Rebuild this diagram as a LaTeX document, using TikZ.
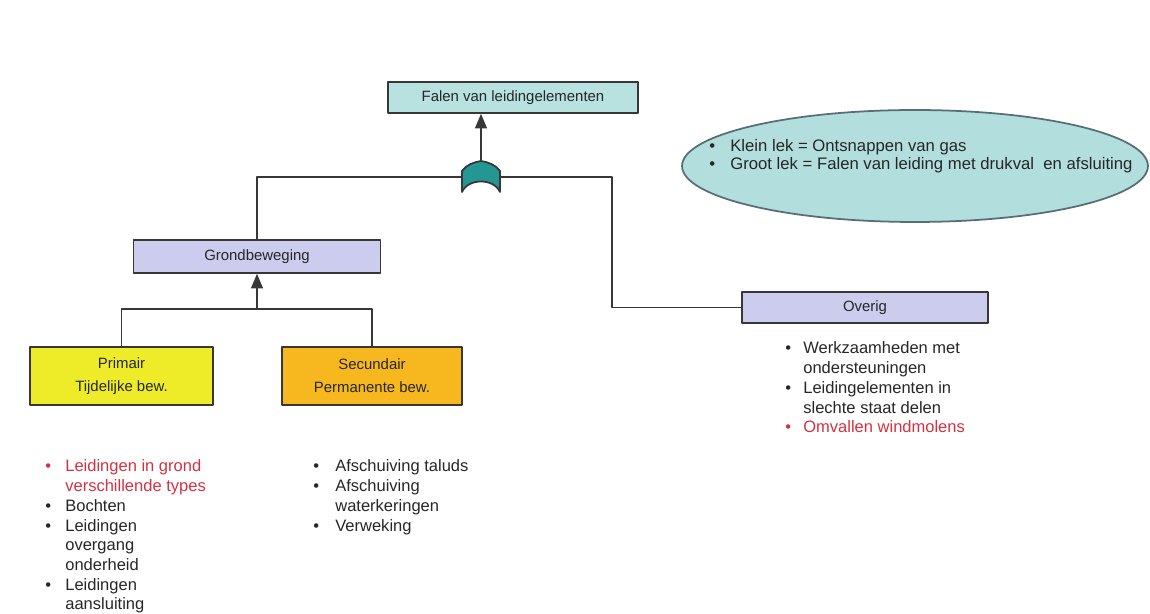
\documentclass[tikz,border=0pt]{standalone}
\usepackage{fontspec}
\setmainfont{Liberation Sans}
\usetikzlibrary{arrows,shapes.geometric}
\definecolor{boxteal}{RGB}{184,226,224}
\definecolor{ovalteal}{RGB}{178,222,222}
\definecolor{ovalrim}{RGB}{88,110,116}
\definecolor{gateteal}{RGB}{36,150,148}
\definecolor{lavender}{RGB}{204,204,238}
\definecolor{yellowbox}{RGB}{238,236,40}
\definecolor{orangebox}{RGB}{246,184,30}
\definecolor{redtext}{RGB}{214,48,64}
\definecolor{linegray}{RGB}{55,55,55}

\begin{document}
\begin{tikzpicture}[line cap=round,line join=round,>=triangle 45,x=0.02cm,y=-0.02cm,
	box/.style={draw=linegray,line width=1pt,minimum height=0.62cm,inner sep=0pt,
		font=\fontsize{8.5}{13}\selectfont,text=black!85},
	conn/.style={draw=linegray,line width=0.9pt},
	lst/.style={anchor=base west,inner sep=0pt,font=\fontsize{9.4}{11.2}\selectfont,text=black!85}]
	\useasboundingbox (0,0) rectangle (1150,614);
	% boxes of the tree
	\node[box,fill=boxteal,minimum width=5cm] (top) at (513,97.5) {Falen van leidingelementen};
	\node[box,fill=lavender,minimum width=4.94cm,minimum height=0.66cm] (grond) at (257,256.5) {Grondbeweging};
	\node[box,fill=yellowbox,minimum width=3.66cm,minimum height=1.16cm,align=center] (prim) at (121.5,376) {Primair\\Tijdelijke bew.};
	\node[box,fill=orangebox,minimum width=3.6cm,minimum height=1.16cm,align=center] (sec) at (372,376) {Secundair\\Permanente bew.};
	\node[box,fill=lavender,minimum width=4.92cm] (overig) at (865,307.5) {Overig};
	% note in the oval
	\node[ellipse,draw=ovalrim,line width=1pt,fill=ovalteal,minimum width=9.32cm,minimum height=2.24cm,inner sep=0pt] (oval) at (915,166) {};
	\node[anchor=base west,inner sep=0pt,font=\fontsize{9.5}{10.2}\selectfont,text=black!85] (lek) at (709,152)
		{\begin{tabular}[t]{@{}p{0.42cm}@{}l@{}}
			\textbullet & Klein lek = Ontsnappen van gas\\
			\textbullet & Groot lek = Falen van leiding met drukval\ \ en afsluiting
		\end{tabular}};
	% or gate
	\coordinate (gatetop) at (481,161);
	\coordinate (gateleft) at (462,177);
	\coordinate (gateright) at (500,177);
	\draw[draw=linegray,line width=1pt,fill=gateteal] (462,192) -- (462,171) .. controls (466,165) and (474,162) .. (481,161)
		.. controls (488,162) and (496,165) .. (500,171) -- (500,192) .. controls (494,178) and (468,178) .. (462,192) -- cycle;
	\coordinate (bend) at (612,177);
	\coordinate (join) at (257,309);
	% connectors
	\draw[conn,->] (gatetop) -- (gatetop |- top.south);
	\draw[conn] (gateleft) -| (grond.north);
	\draw[conn] (gateright) -- (bend) |- (overig.west);
	\draw[conn,->] (join) -- (grond.south);
	\draw[conn] (prim.north) |- (join) -| (sec.north);
	% lists below the boxes
	\node[lst] (primlist) at (45,472)
		{\begin{tabular}[t]{@{}p{0.4cm}@{}l@{}}
			\textcolor{redtext}{\textbullet} & \textcolor{redtext}{Leidingen in grond}\\
			& \textcolor{redtext}{verschillende types}\\
			\textbullet & Bochten\\
			\textbullet & Leidingen\\
			& overgang\\
			& onderheid\\
			\textbullet & Leidingen\\
			& aansluiting
		\end{tabular}};
	\node[lst] (seclist) at (313,472)
		{\begin{tabular}[t]{@{}p{0.44cm}@{}l@{}}
			\textbullet & Afschuiving taluds\\
			\textbullet & Afschuiving\\
			& waterkeringen\\
			\textbullet & Verweking
		\end{tabular}};
	\node[lst] (overiglist) at (785,354)
		{\begin{tabular}[t]{@{}p{0.36cm}@{}l@{}}
			\textbullet & Werkzaamheden met\\
			& ondersteuningen\\
			\textbullet & Leidingelementen in\\
			& slechte staat delen\\
			\textcolor{redtext}{\textbullet} & \textcolor{redtext}{Omvallen windmolens}
		\end{tabular}};
\end{tikzpicture}
\end{document}
